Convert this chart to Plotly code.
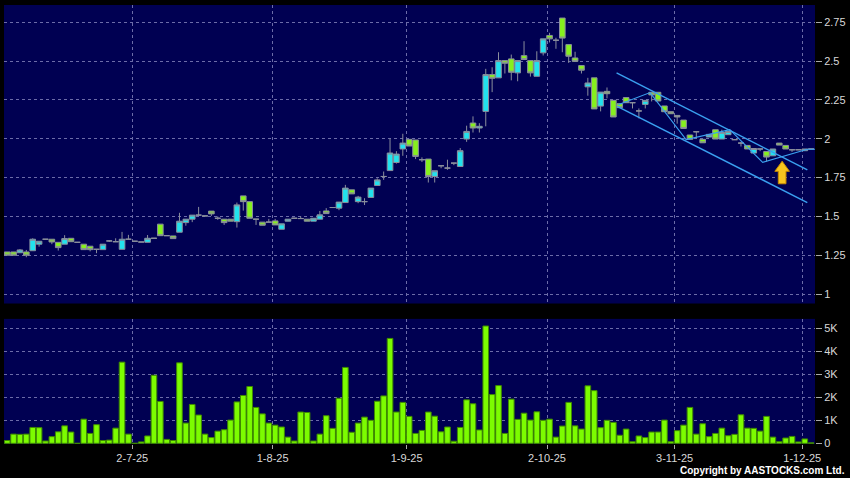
import plotly.graph_objects as go
from plotly.subplots import make_subplots

# daily OHLC (HKD)
opens = [
    1.271, 1.271, 1.266, 1.271, 1.279, 1.321, 1.353, 1.353, 1.333, 1.321,
    1.359, 1.333, 1.321, 1.308, 1.288, 1.286, 1.342, 1.337, 1.288, 1.353,
    1.340, 1.335, 1.333, 1.359, 1.450, 1.376, 1.374, 1.398, 1.460, 1.482,
    1.508, 1.503, 1.534, 1.488, 1.482, 1.482, 1.466, 1.632, 1.595, 1.482,
    1.463, 1.463, 1.471, 1.417, 1.469, 1.488, 1.486, 1.482, 1.469, 1.482,
    1.535, 1.557, 1.553, 1.589, 1.671, 1.595, 1.595, 1.622, 1.699, 1.757,
    1.795, 1.847, 1.934, 1.996, 1.992, 1.865, 1.869, 1.757, 1.826, 1.811,
    1.843, 1.821, 1.998, 2.101, 2.069, 2.176, 2.413, 2.392, 2.503, 2.514,
    2.424, 2.535, 2.503, 2.402, 2.553, 2.665, 2.634, 2.777, 2.606, 2.520,
    2.471, 2.334, 2.392, 2.210, 2.305, 2.247, 2.226, 2.265, 2.232, 2.179,
    2.221, 2.299, 2.299, 2.211, 2.174, 2.150, 2.120, 2.024, 2.045, 1.996,
    2.011, 2.058, 1.998, 2.026, 1.994, 1.972, 1.957, 1.908, 1.934, 1.918,
    1.890, 1.972, 1.957, 1.929, 1.929, 1.923, 1.934,
]
highs = [
    1.271, 1.271, 1.290, 1.284, 1.359, 1.340, 1.353, 1.353, 1.333, 1.379,
    1.359, 1.333, 1.321, 1.308, 1.288, 1.321, 1.345, 1.359, 1.400, 1.381,
    1.340, 1.335, 1.380, 1.359, 1.450, 1.376, 1.374, 1.523, 1.482, 1.508,
    1.561, 1.503, 1.534, 1.500, 1.482, 1.482, 1.589, 1.632, 1.595, 1.482,
    1.463, 1.484, 1.484, 1.452, 1.482, 1.488, 1.500, 1.482, 1.488, 1.535,
    1.553, 1.557, 1.592, 1.703, 1.671, 1.632, 1.617, 1.682, 1.745, 1.789,
    2.000, 1.920, 2.032, 1.996, 1.992, 1.880, 1.869, 1.794, 1.826, 1.865,
    1.843, 1.940, 2.084, 2.144, 2.100, 2.450, 2.460, 2.557, 2.503, 2.542,
    2.503, 2.628, 2.503, 2.563, 2.643, 2.682, 2.650, 2.777, 2.606, 2.560,
    2.471, 2.392, 2.392, 2.300, 2.330, 2.247, 2.226, 2.265, 2.232, 2.195,
    2.247, 2.299, 2.299, 2.211, 2.174, 2.150, 2.120, 2.024, 2.045, 1.996,
    2.028, 2.058, 2.058, 2.047, 1.994, 1.980, 1.957, 1.937, 1.934, 1.918,
    1.934, 1.972, 1.957, 1.929, 1.929, 1.934, 1.934,
]
lows = [
    1.250, 1.250, 1.266, 1.237, 1.279, 1.305, 1.353, 1.321, 1.280, 1.321,
    1.337, 1.333, 1.286, 1.275, 1.263, 1.286, 1.335, 1.337, 1.288, 1.353,
    1.340, 1.335, 1.333, 1.359, 1.376, 1.376, 1.357, 1.398, 1.440, 1.463,
    1.508, 1.503, 1.503, 1.478, 1.445, 1.469, 1.428, 1.537, 1.488, 1.445,
    1.443, 1.463, 1.445, 1.417, 1.469, 1.488, 1.486, 1.469, 1.469, 1.482,
    1.518, 1.557, 1.540, 1.589, 1.645, 1.585, 1.573, 1.622, 1.699, 1.735,
    1.795, 1.840, 1.890, 1.953, 1.869, 1.850, 1.718, 1.718, 1.810, 1.800,
    1.830, 1.821, 1.980, 2.040, 2.040, 2.080, 2.300, 2.392, 2.420, 2.376,
    2.370, 2.510, 2.400, 2.402, 2.536, 2.620, 2.579, 2.557, 2.488, 2.498,
    2.420, 2.277, 2.192, 2.176, 2.260, 2.140, 2.200, 2.232, 2.195, 2.131,
    2.195, 2.240, 2.243, 2.174, 2.161, 2.097, 2.066, 1.996, 2.002, 1.974,
    2.011, 1.998, 1.998, 2.026, 1.994, 1.950, 1.934, 1.908, 1.920, 1.853,
    1.890, 1.959, 1.934, 1.915, 1.929, 1.923, 1.934,
]
closes = [
    1.250, 1.250, 1.284, 1.250, 1.353, 1.340, 1.353, 1.335, 1.299, 1.357,
    1.337, 1.333, 1.286, 1.286, 1.288, 1.321, 1.342, 1.337, 1.353, 1.353,
    1.340, 1.335, 1.359, 1.359, 1.376, 1.376, 1.357, 1.469, 1.482, 1.508,
    1.508, 1.503, 1.516, 1.488, 1.460, 1.469, 1.574, 1.595, 1.488, 1.482,
    1.443, 1.463, 1.445, 1.452, 1.482, 1.488, 1.486, 1.469, 1.488, 1.510,
    1.518, 1.557, 1.592, 1.682, 1.645, 1.624, 1.595, 1.682, 1.735, 1.757,
    1.908, 1.901, 1.972, 1.953, 1.886, 1.865, 1.757, 1.794, 1.826, 1.811,
    1.843, 1.923, 2.047, 2.069, 2.080, 2.413, 2.389, 2.503, 2.486, 2.428,
    2.503, 2.510, 2.424, 2.503, 2.643, 2.643, 2.634, 2.648, 2.531, 2.498,
    2.441, 2.359, 2.192, 2.300, 2.290, 2.140, 2.200, 2.232, 2.232, 2.179,
    2.247, 2.282, 2.243, 2.174, 2.161, 2.140, 2.066, 1.996, 2.045, 1.974,
    2.028, 1.998, 2.041, 2.047, 1.994, 1.972, 1.934, 1.937, 1.934, 1.882,
    1.934, 1.959, 1.934, 1.929, 1.929, 1.934, 1.934,
]
# volume in thousands
volume_k = [
    0.12, 0.40, 0.39, 0.40, 0.69, 0.68, 0.10, 0.29, 0.50, 0.76,
    0.49, 0.00, 1.05, 0.43, 0.81, 0.12, 0.14, 0.66, 3.53, 0.40,
    0.00, 0.06, 0.32, 2.96, 1.82, 0.17, 0.12, 3.50, 0.88, 1.69,
    1.23, 0.40, 0.25, 0.53, 0.59, 1.01, 1.80, 2.08, 2.47, 1.56,
    1.28, 0.88, 0.79, 0.71, 0.27, 0.10, 1.36, 1.34, 0.10, 0.40,
    1.20, 0.65, 1.96, 3.30, 0.48, 0.88, 1.14, 1.00, 1.83, 2.06,
    4.56, 1.36, 1.78, 1.17, 0.43, 0.56, 1.36, 1.18, 0.50, 0.71,
    0.09, 0.69, 1.89, 1.72, 0.58, 5.10, 2.12, 2.51, 0.43, 1.92,
    1.04, 1.31, 1.01, 1.37, 1.00, 1.05, 0.27, 0.75, 1.78, 0.76,
    0.62, 2.50, 2.29, 0.68, 1.00, 0.91, 0.35, 0.62, 0.07, 0.32,
    0.25, 0.49, 0.49, 1.01, 0.07, 0.55, 0.79, 1.56, 0.40, 0.85,
    0.29, 0.43, 0.66, 0.33, 0.39, 1.24, 0.66, 0.65, 0.53, 1.17,
    0.27, 0.07, 0.23, 0.30, 0.06, 0.19, 0.02,
]

# date ticks: trading-day index of each labelled date
tick_index = [20, 42, 63, 85, 105, 125]
tick_labels = ["2-7-25", "1-8-25", "1-9-25", "2-10-25", "3-11-25", "1-12-25"]

price_ticks = [1, 1.25, 1.5, 1.75, 2, 2.25, 2.5, 2.75]
price_labels = ["1", "1.25", "1.5", "1.75", "2", "2.25", "2.5", "2.75"]
vol_ticks = [0, 1, 2, 3, 4, 5]
vol_labels = ["0", "1K", "2K", "3K", "4K", "5K"]

# drawn trend lines (day index, price)
upper_channel = [(95.5, 2.424), (125.4, 1.800)]
lower_channel = [(95.6, 2.208), (125.4, 1.589)]
zigzag = [(95.75, 2.219), (100.75, 2.297), (106.4, 1.994), (113.25, 2.058),
          (118.4, 1.848), (125.4, 1.932), (126.6, 1.932)]

days = list(range(len(closes)))

fig = make_subplots(rows=2, cols=1, shared_xaxes=True)

fig.add_trace(go.Candlestick(
    x=days, open=opens, high=highs, low=lows, close=closes,
    increasing=dict(fillcolor="#22E2EE", line=dict(color="#8a8e9c", width=1)),
    decreasing=dict(fillcolor="#86F01E", line=dict(color="#8a8e9c", width=1)),
    whiskerwidth=0, hoverinfo="skip", showlegend=False,
), row=1, col=1)

for pts, w in [(upper_channel, 1.4), (lower_channel, 1.4), (zigzag, 1.1)]:
    fig.add_trace(go.Scatter(
        x=[p[0] for p in pts], y=[p[1] for p in pts], mode="lines",
        line=dict(color="#3aa0f0", width=w), hoverinfo="skip", showlegend=False,
    ), row=1, col=1)

# yellow up arrow under the last dip
ax, tip, base = 121.45, 1.855, 1.71
arrow_x = [ax, ax + 1.15, ax + 0.6, ax + 0.6, ax - 0.6, ax - 0.6, ax - 1.15, ax]
arrow_y = [tip, tip - 0.065, tip - 0.065, base, base, tip - 0.065, tip - 0.065, tip]
fig.add_trace(go.Scatter(
    x=arrow_x, y=arrow_y, mode="lines", fill="toself", fillcolor="#F7C51E",
    line=dict(color="#C88A00", width=1), hoverinfo="skip", showlegend=False,
), row=1, col=1)

fig.add_trace(go.Bar(
    x=days, y=volume_k, marker=dict(color="#7CFC00", line=dict(color="#3f8a00", width=1)),
    hoverinfo="skip", showlegend=False,
), row=2, col=1)

grid = dict(showgrid=True, gridcolor="#6c6ca8", griddash="3px,3px", gridwidth=1)
tickfont = dict(family="Liberation Sans, Arial, sans-serif", size=11, color="#d8d8d8")

fig.update_xaxes(
    range=[-0.5, 126.6], tickvals=[t - 0.4 for t in tick_index], ticktext=tick_labels,
    zeroline=False, showline=False, rangeslider_visible=False, **grid,
)
fig.update_xaxes(showticklabels=False, ticks="", row=1, col=1)
fig.update_xaxes(ticks="outside", ticklen=4, tickcolor="#aaaaaa", tickfont=tickfont,
                 row=2, col=1)

fig.update_yaxes(side="right", zeroline=False, showline=False, ticks="outside",
                 ticklen=6, tickcolor="#aaaaaa", tickfont=tickfont, **grid)
fig.update_yaxes(range=[0.939, 2.861], tickvals=price_ticks, ticktext=price_labels,
                 domain=[0.32, 1.0], row=1, col=1)
fig.update_yaxes(range=[-0.03, 5.41], tickvals=vol_ticks, ticktext=vol_labels,
                 domain=[0.0, 0.285], row=2, col=1)

fig.add_annotation(
    text="<b>Copyright by AASTOCKS.com Ltd.</b>", xref="paper", yref="paper",
    x=1.0, y=-0.061, xanchor="right", yanchor="middle", showarrow=False, xshift=32,
    font=dict(family="Liberation Sans, Arial, sans-serif", size=10, color="#ffffff"),
)

fig.update_layout(
    width=850, height=478,
    margin=dict(l=4, r=33, t=5, b=34),
    paper_bgcolor="#000000", plot_bgcolor="#000052",
    boxgap=0.12, boxgroupgap=0, bargap=0.12,
    showlegend=False,
)

# drop the default page margin so the figure sits at the window origin
fig.write_html(
    "out.html",
    config={"displayModeBar": False},
    post_script="document.body.style.margin='0';document.body.style.background='#000';",
)
